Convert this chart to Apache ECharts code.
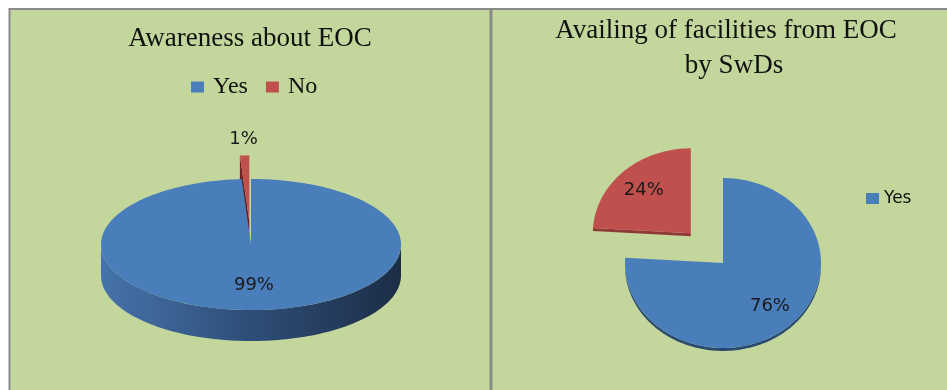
<!DOCTYPE html>
<html><head><meta charset="utf-8">
<script src="https://cdn.jsdelivr.net/npm/echarts@6/dist/echarts.min.js"></script>
<style>html,body{margin:0;padding:0;background:#fff;}#c{width:947px;height:390px;}</style>
</head><body><div id="c"></div>
<script>
// ---- data ----
const categories = ['Yes', 'No'];
const awarenessValues = [99, 1];
const availingValues = [76, 24];
const chartTitles = ['Awareness about EOC', ['Availing of facilities from EOC', 'by SwDs']];

// ---- layout / style (not data) ----
const topColors = ['#4a7ebb', '#c0504d'];
const panels = [
  {values: awarenessValues, cx: 251, cy: 244.5, R: 150, k: 0.437, h: 31, explodeIndex: 1, explode: 54, labelIn: 0.63, labelOut: 1.24,
   sideFills: [
     {type: 'linear', x: 0, y: 0, x2: 1, y2: 0, colorStops: [{offset: 0, color: '#4673ab'}, {offset: 0.45, color: '#30517c'}, {offset: 1, color: '#1c2d46'}]},
     '#6b2422'], wallFills: ['#2c4a72', '#6b2422']},
  {values: availingValues, cx: 723, cy: 263, R: 98, k: 0.867, h: 3, explodeIndex: 1, explode: 47, labelIn: 0.7, labelOut: 1.24,
   sideFills: ['#2b4a70', '#8f3a37'], wallFills: ['#2b4a70', '#8f3a37']}
];

function slicesOf(values) {
  const total = values.reduce((a, b) => a + b, 0);
  let cum = 0;
  return values.map(v => {
    const a0 = cum / total * 360; cum += v;
    return {a0, a1: cum / total * 360, pct: Math.round(v / total * 100)};
  });
}
function arc(p, ox, oy, a0, a1, down) {
  const pts = [];
  const n = Math.max(2, Math.ceil((a1 - a0) / 1.5));
  for (let j = 0; j <= n; j++) {
    const a = (a0 + (a1 - a0) * j / n) * Math.PI / 180;
    pts.push([p.cx + ox + p.R * Math.sin(a), p.cy + oy - p.R * p.k * Math.cos(a) + down]);
  }
  return pts;
}
function buildSlice(p, idx) {
  const s = slicesOf(p.values)[idx];
  const mid = (s.a0 + s.a1) / 2 * Math.PI / 180;
  const d = idx === p.explodeIndex ? p.explode : 0;
  const ox = d * Math.sin(mid), oy = -d * p.k * Math.cos(mid);
  const c = [p.cx + ox, p.cy + oy];
  const children = [];
  const lo = Math.max(s.a0, 90), hi = Math.min(s.a1, 270);
  if (hi > lo) {
    const top = arc(p, ox, oy, lo, hi, 0);
    const bot = arc(p, ox, oy, lo, hi, p.h).reverse();
    children.push({type: 'polygon', z2: 1, shape: {points: top.concat(bot)}, style: {fill: p.sideFills[idx]}});
  }
  const wall = a => {
    const e = arc(p, ox, oy, a, a, 0)[0];
    return [c, e, [e[0], e[1] + p.h], [c[0], c[1] + p.h]];
  };
  if (Math.sin(s.a0 * Math.PI / 180) < -1e-6)
    children.push({type: 'polygon', z2: 2, shape: {points: wall(s.a0)}, style: {fill: p.wallFills[idx]}});
  if (Math.sin(s.a1 * Math.PI / 180) > 1e-6)
    children.push({type: 'polygon', z2: 2, shape: {points: wall(s.a1)}, style: {fill: p.wallFills[idx]}});
  children.push({type: 'polygon', z2: 10, shape: {points: [c].concat(arc(p, ox, oy, s.a0, s.a1, 0))}, style: {fill: topColors[idx]}});
  const rho = s.pct < 5 ? p.labelOut : p.labelIn;
  children.push({type: 'text', z2: 20,
    x: c[0] + rho * p.R * Math.sin(mid), y: c[1] - rho * p.R * p.k * Math.cos(mid),
    style: {text: s.pct + '%', fill: '#1a1a1a', fontFamily: 'DejaVu Sans', fontSize: 18, align: 'center', verticalAlign: 'middle'}});
  return {type: 'group', children};
}

const series = [];
panels.forEach((p, pi) => {
  categories.forEach((cat, ci) => {
    series.push({
      type: 'custom', name: cat, coordinateSystem: 'none', silent: true,
      itemStyle: {color: topColors[ci]},
      data: [p.values[ci]],
      renderItem: () => buildSlice(p, ci)
    });
  });
});

const titleFont = {fontFamily: 'Liberation Serif', fontSize: 27, fontWeight: 'normal', color: '#111'};
const chart = echarts.init(document.getElementById('c'));
chart.setOption({
  animation: false,
  backgroundColor: '#ffffff',
  graphic: [
    {type: 'rect', z: -10, silent: true, shape: {x: 9.5, y: 9, width: 481, height: 400}, style: {fill: '#c3d69b', stroke: '#8a8a8a', lineWidth: 2}},
    {type: 'rect', z: -10, silent: true, shape: {x: 491.5, y: 9, width: 470, height: 400}, style: {fill: '#c3d69b', stroke: '#8a8a8a', lineWidth: 2}}
  ],
  title: [
    {text: chartTitles[0], left: 250, top: 25, textAlign: 'center', padding: 0, textStyle: titleFont},
    {text: '{a|' + chartTitles[1][0] + '}\n{b|' + chartTitles[1][1] + '}', left: 726, top: 13, textAlign: 'center', padding: 0,
     textStyle: Object.assign({}, titleFont, {lineHeight: 35,
       rich: {a: Object.assign({}, titleFont, {lineHeight: 35}), b: Object.assign({}, titleFont, {lineHeight: 35, padding: [0, 0, 0, 16]})}})}
  ],
  legend: [
    {data: categories, left: 191, top: 75, padding: 0, itemWidth: 13, itemHeight: 11, itemGap: 18, icon: 'rect', selectedMode: false,
     textStyle: {fontFamily: 'Liberation Serif', fontSize: 24, color: '#111', padding: [0, 0, 0, 4]}},
    {data: [categories[0]], left: 866, top: 190, padding: 0, itemWidth: 13, itemHeight: 11, icon: 'rect', selectedMode: false,
     textStyle: {fontFamily: 'DejaVu Sans', fontSize: 17, color: '#111'}}
  ],
  series
});
</script></body></html>
